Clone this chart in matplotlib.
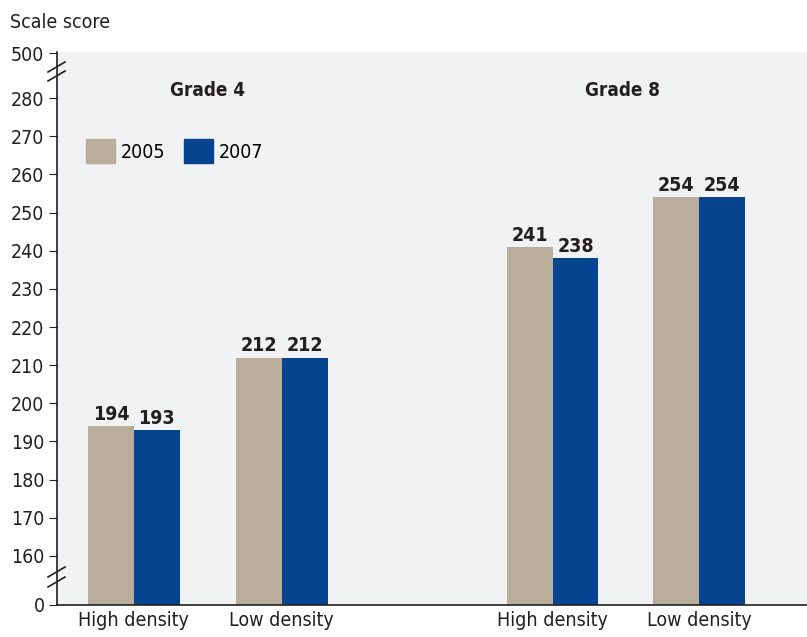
import matplotlib.pyplot as plt
import numpy as np
from matplotlib.patches import Patch

categories = ['High density', 'Low density', 'High density', 'Low density']
grades = ['Grade 4', 'Grade 8']
scores_2005 = [194, 212, 241, 254]
scores_2007 = [193, 212, 238, 254]
years = ['2005', '2007']
ytick_values = [0, 160, 170, 180, 190, 200, 210, 220, 230, 240, 250, 260, 270, 280, 500]

color_2005 = '#b9ae9c'
color_2007 = '#07448f'
panel_bg = '#f1f2f4'
text_color = '#231f20'

plt.rcParams['font.family'] = ['DejaVu Sans']
plt.rcParams['font.stretch'] = 'condensed'


# piecewise scale: 0..160 squeezed, 160..280 linear, 280..500 squeezed
def fwd(v):
    v = np.asarray(v, dtype=float)
    return np.where(v < 160, 147.1 + v / 160 * 12.9,
                    np.where(v > 280, 280 + (v - 280) / 220 * 11.8, v))


def inv(u):
    u = np.asarray(u, dtype=float)
    return np.where(u < 160, (u - 147.1) / 12.9 * 160,
                    np.where(u > 280, 280 + (u - 280) / 11.8 * 220, u))


fig = plt.figure(figsize=(8.07, 6.37), dpi=100)
ax = fig.add_axes([57 / 807, 32 / 637, 750 / 807, 553 / 637])
ax.set_facecolor(panel_bg)

x = np.array([0, 1, 2.83, 3.82])
width = 0.31

ax.set_yscale('function', functions=(fwd, inv))
b1 = ax.bar(x - width / 2, scores_2005, width, color=color_2005)
b2 = ax.bar(x + width / 2, scores_2007, width, color=color_2007)

for bars, vals in ((b1, scores_2005), (b2, scores_2007)):
    for rect, v in zip(bars, vals):
        ax.annotate(str(v), (rect.get_x() + rect.get_width() / 2, v),
                    xytext=(0, 1.5), textcoords='offset points',
                    ha='center', va='bottom', fontsize=14, fontweight='bold',
                    color=text_color)

ax.set_ylim(0, 506)
ax.set_xlim(-0.52, 4.55)
ax.set_yticks(ytick_values)
ax.set_yticklabels([str(v) for v in ytick_values])
ax.set_xticks(x)
ax.set_xticklabels(categories)
ax.tick_params(axis='y', labelsize=14, length=6, color=text_color, labelcolor=text_color, pad=3)
ax.tick_params(axis='x', labelsize=14, length=0, labelcolor=text_color, pad=4)
ax.yaxis.set_minor_locator(plt.NullLocator())

for s in ('top', 'right'):
    ax.spines[s].set_visible(False)
for s in ('left', 'bottom'):
    ax.spines[s].set_color(text_color)
    ax.spines[s].set_linewidth(1.2)

# group titles
ax.text((x[0] + x[1]) / 2, 0.93, grades[0], transform=ax.get_xaxis_transform(),
        ha='center', va='center', fontsize=13.5, fontweight='bold', color=text_color)
ax.text((x[2] + x[3]) / 2 - 0.02, 0.93, grades[1], transform=ax.get_xaxis_transform(),
        ha='center', va='center', fontsize=13.5, fontweight='bold', color=text_color)

handles = [Patch(color=color_2005), Patch(color=color_2007)]
ax.legend(handles, years, loc='upper left', bbox_to_anchor=(0.039, 0.842), ncol=2,
          frameon=False, fontsize=14, handlelength=1.5, handleheight=1.5,
          handletextpad=0.25, columnspacing=1.0, borderaxespad=0, borderpad=0)

# axis break marks (pixel offsets from the spine)
W, H = 750, 553
for yb in (72 - 52, 81 - 52, 577 - 52, 587 - 52):
    ax.plot([-9 / W, 8 / W], [1 - yb / H, 1 - (yb - 10) / H], transform=ax.transAxes,
            color=text_color, lw=1.2, clip_on=False)

fig.text(10 / 807, 1 - 22 / 637, 'Scale score', fontsize=14, color=text_color,
         ha='left', va='center')

fig.savefig('out.png', dpi=100, facecolor='white')
